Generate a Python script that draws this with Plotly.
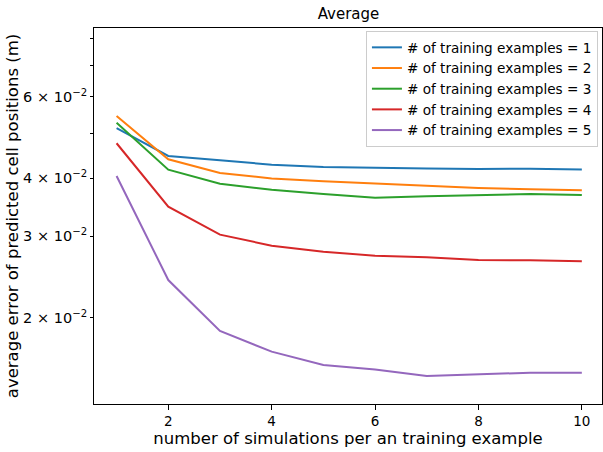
import plotly.graph_objects as go

x_sims = [1, 2, 3, 4, 5, 6, 7, 8, 9, 10]
err_1 = [0.0513, 0.0447, 0.04374, 0.04279, 0.04231, 0.0421, 0.04198, 0.04189, 0.04195, 0.04181]
err_2 = [0.0545, 0.04396, 0.04106, 0.03998, 0.0394, 0.03894, 0.03855, 0.03812, 0.03787, 0.03768]
err_3 = [0.0527, 0.04174, 0.03894, 0.03779, 0.0370, 0.03633, 0.03658, 0.03682, 0.0370, 0.03682]
err_4 = [0.0476, 0.03474, 0.03024, 0.02863, 0.02779, 0.02724, 0.02703, 0.02667, 0.02663, 0.0265]
err_5 = [0.04046, 0.02414, 0.01875, 0.01692, 0.01584, 0.01548, 0.0150, 0.01512, 0.01524, 0.01524]
series = [err_1, err_2, err_3, err_4, err_5]
names = ["# of training examples = %d" % i for i in range(1, 6)]
colors = ["#1f77b4", "#ff7f0e", "#2ca02c", "#d62728", "#9467bd"]

y_tickvals = [0.02, 0.03, 0.04, 0.06]
y_ticktext = ["2 × 10<sup>−2</sup>", "3 × 10<sup>−2</sup>", "4 × 10<sup>−2</sup>",
              "6 × 10<sup>−2</sup>"]
y_minor_vals = [0.05, 0.07, 0.08]
x_tickvals = [2, 4, 6, 8, 10]

fig = go.Figure()
for ys, nm, c in zip(series, names, colors):
    fig.add_trace(go.Scatter(x=x_sims, y=ys, mode="lines", name=nm,
                             line=dict(color=c, width=2)))

font = "DejaVu Sans, sans-serif"
fig.update_layout(
    width=603, height=452,
    margin=dict(l=94, r=1, t=28, b=48),
    plot_bgcolor="white", paper_bgcolor="white",
    font=dict(family=font, size=12, color="black"),
    title=dict(text="Average", x=0.578, xanchor="center", y=0.969, yanchor="middle",
               font=dict(size=15)),
    showlegend=True,
    legend=dict(x=0.992, xanchor="right", y=0.992, yanchor="top",
                bgcolor="rgba(255,255,255,0.8)", bordercolor="#cccccc", borderwidth=1,
                font=dict(size=13.6), tracegroupgap=0),
)
fig.update_xaxes(range=[0.563, 10.39], tickvals=x_tickvals, ticks="outside", ticklen=5,
                 tickcolor="black", showline=True, linecolor="black", linewidth=1, mirror=True,
                 showgrid=False, zeroline=False, tickfont=dict(size=13.5),
                 title=dict(text="number of simulations per an training example",
                            font=dict(size=16.5), standoff=4))
fig.update_yaxes(type="log", range=[-1.8844, -1.074], tickvals=y_tickvals, ticktext=y_ticktext,
                 ticks="outside", ticklen=3, tickcolor="black", showline=True, linecolor="black",
                 linewidth=1, mirror=True, showgrid=False, zeroline=False,
                 minor=dict(tickvals=y_minor_vals, ticks="outside", ticklen=3,
                            tickcolor="black", showgrid=False),
                 tickfont=dict(size=14.5),
                 title=dict(text="average error of predicted cell positions (m)",
                            font=dict(size=16.5), standoff=0))

fig.write_html("out.html", config={"displayModeBar": False},
               post_script="document.body.style.margin='0';document.body.style.overflow='hidden';")
